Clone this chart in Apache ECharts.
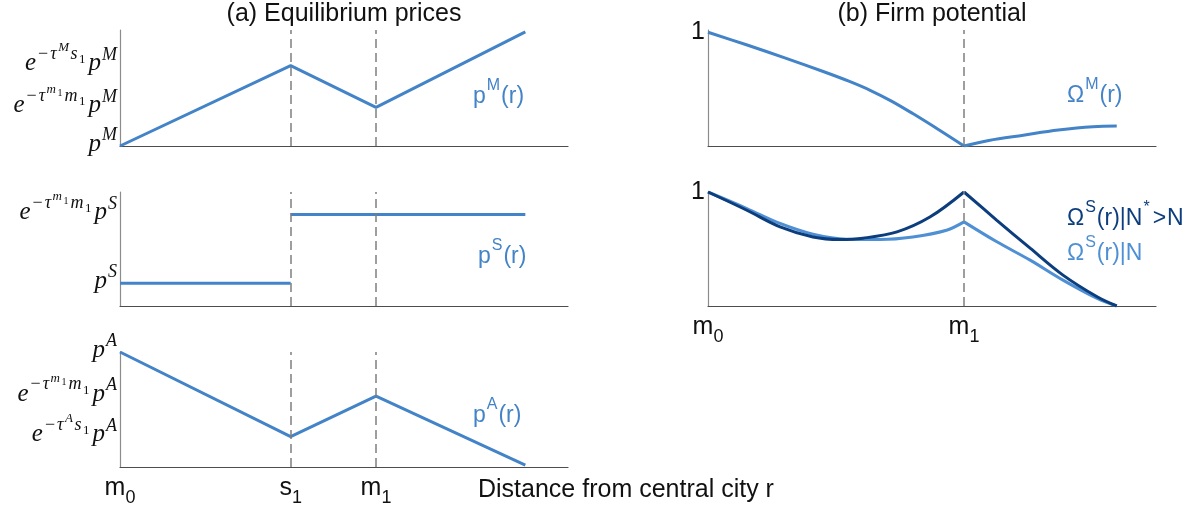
<!DOCTYPE html>
<html>
<head>
<meta charset="utf-8">
<script src="https://cdn.jsdelivr.net/npm/echarts@6/dist/echarts.min.js"></script>
<style>
  html, body { margin: 0; padding: 0; background: #fff; }
  #chart { width: 1203px; height: 511px; }
</style>
</head>
<body>
<div id="chart"></div>
<script>
// Distance positions of the city centre, the suburb and the second metro
const distTicks = [0, 4, 6];
const distTickLabels = ['{m|m}{s|0}', '{m|s}{s|1}', '{m|m}{s|1}'];
const rightTicks = [0, 6];
const rightTickLabels = ['{m|m}{s|0}', '{m|m}{s|1}'];

// (a) manufacturing price
const rM = [0, 4, 6, 9.5];
const pM = [0, 2.08, 1.0, 2.95];
const pMTicks = [0, 1.0, 2.08];
const pMTickLabels = [
  '{b|p}{ps|M}',
  '{b|e}{e1r|−}{e1|τ}{e2|m}{e3|1}{e1|m}{e2s|1}{pb|p}{ps|M}',
  '{b|e}{e1r|−}{e1|τ}{e2|M}{e1|s}{e2s|1}{pb|p}{ps|M}'
];

// (a) service price: flat inside s1, higher beyond
const rSLow = [0, 4];
const pSLow = [0.6, 0.6];
const rSHigh = [4, 9.5];
const pSHigh = [2.41, 2.41];
const pSTicks = [0.6, 2.41];
const pSTickLabels = [
  '{b|p}{ps|S}',
  '{b|e}{e1r|−}{e1|τ}{e2|m}{e3|1}{e1|m}{e2s|1}{pb|p}{ps|S}'
];

// (a) agricultural price; the m1 tick sits on its own helper axis
const rA = [0, 4, 6, 9.5];
const pA = [3.0, 0.79, 1.85, 0.05];
const pATicks = [0.79, 3.0];
const pATickLabels = [
  '{b|e}{e1r|−}{e1|τ}{e2|A}{e1|s}{e2s|1}{pb|p}{ps|A}',
  '{b|p}{ps|A}'
];
const pAM1Ticks = [1.85];
const pAM1TickLabels = ['{b|e}{e1r|−}{e1|τ}{e2|m}{e3|1}{e1|m}{e2s|1}{pb|p}{ps|A}'];

// (b) manufacturing firm potential, split at the m1 cusp
const rOmMLeft = [0, 0.9, 1.8, 2.7, 3.3, 3.8, 4.3, 4.8, 5.4, 6.0];
const omMLeft = [1.0, 0.89, 0.775, 0.655, 0.57, 0.49, 0.395, 0.285, 0.145, 0];
const rOmMRight = [6.0, 6.58, 7.39, 8.21, 9.02, 9.58];
const omMRight = [0, 0.049, 0.095, 0.14, 0.17, 0.175];

// (b) service firm potential, equilibrium N
const rOmSLeft = [0, 0.91, 1.69, 2.46, 3.25, 4.03, 4.80, 5.59, 6.0];
const omSLeft = [1.0, 0.855, 0.724, 0.63, 0.586, 0.584, 0.606, 0.665, 0.738];
const rOmSRight = [6.0, 6.77, 7.55, 8.32, 9.12, 9.58];
const omSRight = [0.738, 0.563, 0.402, 0.227, 0.067, 0];

// (b) service firm potential, larger population N*
const rOmSStarLeft = [0, 0.91, 1.69, 2.46, 3.09, 3.63, 4.43, 5.20, 6.0];
const omSStarLeft = [1.0, 0.84, 0.694, 0.606, 0.584, 0.595, 0.65, 0.78, 1.0];
const rOmSStarRight = [6.0, 6.77, 7.55, 8.32, 9.12, 9.58];
const omSStarRight = [1.0, 0.752, 0.507, 0.271, 0.081, 0];

const rightYTicks = [1];
const rightYTickLabels = ['1'];

const BLUE = '#4383c7';
const LIGHT = '#4f8fd4';
const DARK = '#0c3e7d';
const DASH = '#7f7f7f';
const SANS = 'Liberation Sans, Arial, sans-serif';
const SERIF = 'Liberation Serif, Times New Roman, serif';

function pairs(xs, ys) { return xs.map((x, i) => [x, ys[i]]); }

// label text for the tick nearest to the value the axis hands back
function lookup(ticks, labels) {
  return function (v) {
    let best = -1, bestD = 0.06;
    for (let i = 0; i < ticks.length; i++) {
      const d = Math.abs(ticks[i] - v);
      if (d < bestD) { bestD = d; best = i; }
    }
    return best < 0 ? '' : labels[best];
  };
}

// TeX-like label pieces, each lifted by `rise` px above the line bottom
function piece(size, rise, italic, left, right) {
  return {
    fontFamily: SERIF, fontStyle: italic ? 'italic' : 'normal', fontSize: size,
    color: '#111', verticalAlign: 'bottom',
    padding: [0, right || 0, rise, left || 0]
  };
}
const mathRich = {
  b:   piece(25, 6.5, true),
  pb:  piece(25, 6.5, true, 3),
  ps:  piece(18, 18.5, true, 1),
  e1:  piece(18, 19.5, true, 0, 1.5),
  e1r: piece(18, 19.5, false, 2, 2),
  e2:  piece(13, 28.5, true, 0, 1.5),
  e2s: piece(13, 16.5, false),
  e3:  piece(10, 25.5, false, 0, 2)
};

const subRich = {
  m: { fontFamily: SANS, fontSize: 25, color: '#111', verticalAlign: 'bottom', padding: [0, 0, 6, 0] },
  s: { fontFamily: SANS, fontSize: 18, color: '#111', verticalAlign: 'bottom' }
};

const grids = [
  { left: 120, top: 30,  width: 448, height: 116 },
  { left: 120, top: 192, width: 448, height: 114 },
  { left: 120, top: 352, width: 448, height: 115 },
  { left: 708, top: 30,  width: 448, height: 116 },
  { left: 708, top: 192, width: 448, height: 114 }
];

function xAxis(gridIndex, ticks, labels) {
  return {
    type: 'value', gridIndex, min: 0, max: 10.5,
    axisLine: { show: true, onZero: false, lineStyle: { color: '#4d4d4d', width: 1.2 } },
    axisTick: { show: false },
    splitLine: { show: false },
    axisLabel: ticks ? {
      show: true, customValues: ticks, margin: 9, hideOverlap: false,
      formatter: lookup(ticks, labels), rich: subRich
    } : { show: false }
  };
}

function yAxis(gridIndex, max, ticks, labels, rich, fontSize, noLine) {
  return {
    type: 'value', gridIndex, min: 0, max, position: 'left', offset: 0,
    axisLine: { show: !noLine, onZero: false, lineStyle: { color: '#8c8c8c', width: 1.2 } },
    axisTick: { show: false },
    splitLine: { show: false },
    axisLabel: {
      show: true, customValues: ticks, margin: 3, hideOverlap: false,
      showMinLabel: true, showMaxLabel: true,
      formatter: lookup(ticks, labels),
      rich: rich || undefined,
      lineHeight: rich ? 34 : undefined,
      fontFamily: SANS, fontSize: fontSize || 25, color: '#111'
    }
  };
}

function dashes(values) {
  return {
    silent: true, symbol: 'none', animation: false,
    label: { show: false },
    lineStyle: { color: DASH, width: 1.5, type: [9, 5] },
    data: values.map(v => ({ xAxis: v }))
  };
}

function line(name, xi, data, color, extra) {
  return Object.assign({
    name, type: 'line', xAxisIndex: xi, yAxisIndex: xi,
    data, showSymbol: false, symbol: 'none', silent: true,
    lineStyle: { color, width: 3 }, z: 3
  }, extra || {});
}

function curveLabel(x, y, text, color) {
  return {
    type: 'text', x, y, z: 10,
    style: {
      text, align: 'left', verticalAlign: 'middle',
      rich: {
        b: { fontFamily: SANS, fontSize: 23, fill: color, color, verticalAlign: 'bottom' },
        g: { fontFamily: SANS, fontSize: 23, fill: color, color, verticalAlign: 'bottom', padding: [0, 1, 0, 2] },
        s: { fontFamily: SANS, fontSize: 16, fill: color, color, verticalAlign: 'bottom', padding: [0, 1, 14, 1] }
      }
    }
  };
}

const chart = echarts.init(document.getElementById('chart'), null, { renderer: 'canvas' });

chart.setOption({
  animation: false,
  backgroundColor: '#fff',
  grid: grids,
  xAxis: [
    xAxis(0), xAxis(1), xAxis(2, distTicks, distTickLabels),
    xAxis(3), xAxis(4, rightTicks, rightTickLabels)
  ],
  yAxis: [
    yAxis(0, 3, pMTicks, pMTickLabels, mathRich),
    yAxis(1, 3, pSTicks, pSTickLabels, mathRich),
    yAxis(2, 3, pATicks, pATickLabels, mathRich),
    yAxis(3, 1.02, rightYTicks, rightYTickLabels, null, 25),
    yAxis(4, 1, rightYTicks, rightYTickLabels, null, 25),
    yAxis(2, 3, pAM1Ticks, pAM1TickLabels, mathRich, null, true)
  ],
  series: [
    line('pM', 0, pairs(rM, pM), BLUE, { markLine: dashes([4, 6]) }),
    line('pS low', 1, pairs(rSLow, pSLow), BLUE, { markLine: dashes([4, 6]) }),
    line('pS high', 1, pairs(rSHigh, pSHigh), BLUE),
    line('pA', 2, pairs(rA, pA), BLUE, { markLine: dashes([4, 6]) }),
    line('OmegaM left', 3, pairs(rOmMLeft, omMLeft), BLUE, { smooth: 0.35, markLine: dashes([6]) }),
    line('OmegaM right', 3, pairs(rOmMRight, omMRight), BLUE, { smooth: 0.35 }),
    line('OmegaS left', 4, pairs(rOmSLeft, omSLeft), LIGHT, { smooth: 0.35, markLine: dashes([6]) }),
    line('OmegaS right', 4, pairs(rOmSRight, omSRight), LIGHT, { smooth: 0.35 }),
    line('OmegaS* left', 4, pairs(rOmSStarLeft, omSStarLeft), DARK, { smooth: 0.35, z: 4 }),
    line('OmegaS* right', 4, pairs(rOmSStarRight, omSStarRight), DARK, { smooth: 0.35, z: 4 })
  ],
  graphic: [
    { type: 'text', x: 344, y: 14, style: { text: '(a) Equilibrium prices', font: '25px ' + SANS, fill: '#111', align: 'center', verticalAlign: 'middle' } },
    { type: 'text', x: 932, y: 14, style: { text: '(b) Firm potential', font: '25px ' + SANS, fill: '#111', align: 'center', verticalAlign: 'middle' } },
    { type: 'text', x: 478, y: 490, style: { text: 'Distance from central city r', font: '25px ' + SANS, fill: '#111', align: 'left', verticalAlign: 'middle' } },
    curveLabel(473, 93, '{b|p}{s|M}{b|(r)}', BLUE),
    curveLabel(478, 253, '{b|p}{s|S}{b|(r)}', BLUE),
    curveLabel(473, 412, '{b|p}{s|A}{b|(r)}', BLUE),
    curveLabel(1067, 92, '{b|Ω}{s|M}{b|(r)}', BLUE),
    curveLabel(1067, 215, '{b|Ω}{s|S}{b|(r)|N}{s|*}{g|>}{b|N}', DARK),
    curveLabel(1067, 250, '{b|Ω}{s|S}{b|(r)|N}', LIGHT)
  ]
});
</script>
</body>
</html>
